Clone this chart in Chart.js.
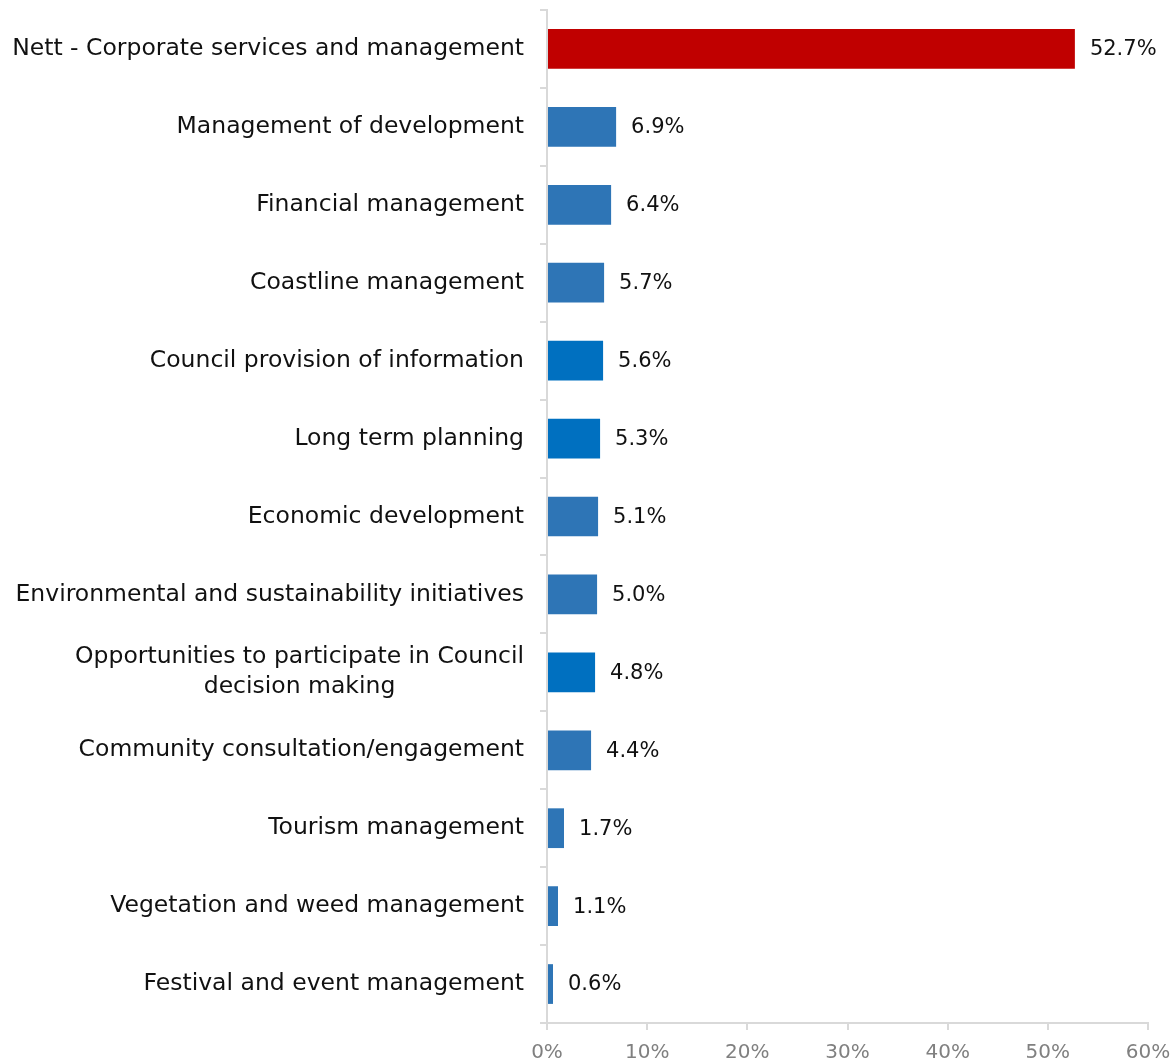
<!DOCTYPE html>
<html>
<head>
<meta charset="utf-8">
<script src="https://cdn.jsdelivr.net/npm/chart.js@4/dist/chart.umd.min.js"></script>
<style>
  html, body { margin: 0; padding: 0; background: #fff; }
  #wrap { width: 1175px; height: 1063px; }
</style>
</head>
<body>
<div id="wrap"><canvas id="chart"></canvas></div>
<script>
const categories = [
  'Nett - Corporate services and management',
  'Management of development',
  'Financial management',
  'Coastline management',
  'Council provision of information',
  'Long term planning',
  'Economic development',
  'Environmental and sustainability initiatives',
  ['Opportunities to participate in Council', 'decision making'],
  'Community consultation/engagement',
  'Tourism management',
  'Vegetation and weed management',
  'Festival and event management'
];
const shares = [52.7, 6.9, 6.4, 5.7, 5.6, 5.3, 5.1, 5.0, 4.8, 4.4, 1.7, 1.1, 0.6];
const barColors = [
  '#C00000', '#2E75B6', '#2E75B6', '#2E75B6', '#0070C0', '#0070C0', '#2E75B6',
  '#2E75B6', '#0070C0', '#2E75B6', '#2E75B6', '#2E75B6', '#2E75B6'
];
const xTicks = [0, 10, 20, 30, 40, 50, 60];

const FONT = '"DejaVu Sans", sans-serif';
const AXIS_EDGE = 547;
const AXIS_BOTTOM = 1023;

// category names drawn on the left, right aligned, wrapped lines centred on each other
const categoryLabels = {
  id: 'categoryLabels',
  afterDraw(chart) {
    const ctx = chart.ctx;
    const y = chart.scales.y;
    ctx.save();
    ctx.font = '23.5px ' + FONT;
    ctx.fillStyle = '#111';
    ctx.textBaseline = 'middle';
    const right = AXIS_EDGE - 23;
    categories.forEach((label, i) => {
      const lines = Array.isArray(label) ? label : [label];
      const widest = Math.max(...lines.map(l => ctx.measureText(l).width));
      const cx = right - widest / 2;
      const lh = 30;
      const y0 = y.getPixelForValue(i) - (lines.length - 1) * lh / 2;
      ctx.textAlign = lines.length > 1 ? 'center' : 'right';
      lines.forEach((l, k) => {
        ctx.fillText(l, lines.length > 1 ? cx : right, y0 + k * lh);
      });
    });
    ctx.restore();
  }
};

// percentage after the end of each bar
const valueLabels = {
  id: 'valueLabels',
  afterDatasetsDraw(chart) {
    const ctx = chart.ctx;
    const meta = chart.getDatasetMeta(0);
    ctx.save();
    ctx.font = '21px ' + FONT;
    ctx.fillStyle = '#111';
    ctx.textAlign = 'left';
    ctx.textBaseline = 'middle';
    meta.data.forEach((bar, i) => {
      ctx.fillText(shares[i].toFixed(1) + '%', bar.x + 15, bar.y + 1);
    });
    ctx.restore();
  }
};

new Chart(document.getElementById('chart'), {
  type: 'bar',
  data: {
    labels: categories,
    datasets: [{
      data: shares,
      backgroundColor: barColors,
      borderWidth: 0,
      categoryPercentage: 1,
      barPercentage: 0.51
    }]
  },
  options: {
    indexAxis: 'y',
    responsive: true,
    maintainAspectRatio: false,
    animation: false,
    layout: { padding: { top: 10, right: 27, bottom: 0, left: 0 } },
    plugins: {
      legend: { display: false },
      tooltip: { enabled: false }
    },
    scales: {
      x: {
        min: 0,
        max: 60,
        afterBuildTicks: s => { s.ticks = xTicks.map(v => ({ value: v })); },
        afterFit: s => {
          s.height = 1063 - AXIS_BOTTOM;
          s.paddingLeft = 0;
          s.paddingRight = 0;
        },
        grid: {
          drawOnChartArea: false,
          drawTicks: true,
          tickLength: 7,
          color: '#d9d9d9',
          lineWidth: 2
        },
        border: { color: '#d9d9d9', width: 2 },
        ticks: {
          color: '#808080',
          font: { family: FONT, size: 20, lineHeight: 1.0 },
          padding: 13,
          callback: v => v + '%'
        }
      },
      y: {
        grid: {
          drawOnChartArea: false,
          drawTicks: true,
          tickLength: 7,
          offset: true,
          color: '#d9d9d9',
          lineWidth: 2
        },
        border: { color: '#d9d9d9', width: 2 },
        ticks: { display: false },
        afterFit: s => { s.width = AXIS_EDGE; }
      }
    }
  },
  plugins: [categoryLabels, valueLabels]
});
</script>
</body>
</html>
